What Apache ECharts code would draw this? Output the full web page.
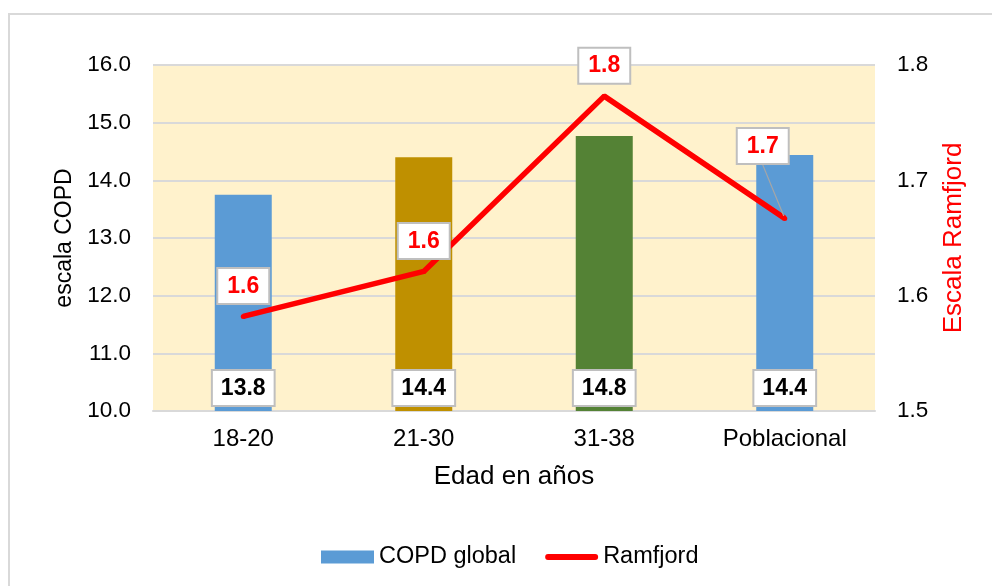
<!DOCTYPE html>
<html>
<head>
<meta charset="utf-8">
<script src="https://cdn.jsdelivr.net/npm/echarts@6/dist/echarts.min.js"></script>
<style>
    html, body { margin: 0; padding: 0; background: #fff; overflow: hidden; }
    .marco { position: absolute; left: 8px; top: 13px; width: 1000px; height: 600px; border: 2px solid #d9d9d9; }
    #chart { position: absolute; left: 0; top: 0; width: 992px; height: 586px; }
</style>
</head>
<body>
<div class="marco"></div>
<div id="chart"></div>
<script>
// datos
const categorias = ['18-20', '21-30', '31-38', 'Poblacional'];
const copdGlobal = [13.75, 14.4, 14.77, 14.44];
const ramfjord = [1.582, 1.621, 1.773, 1.667];
const coloresBarras = ['#5B9BD5', '#BF9000', '#548235', '#5B9BD5'];

const fuente = 'Liberation Sans, Arial, sans-serif';

let myChart = echarts.init(document.getElementById('chart'));

myChart.setOption({
    textStyle: { fontFamily: fuente },
    legend: {
        left: 321,
        top: 545,
        padding: 0,
        itemWidth: 53,
        itemHeight: 13,
        itemGap: 29,
        textStyle: { fontSize: 23.5, color: '#000', fontFamily: fuente },
        data: [
            { name: 'COPD global', icon: 'rect' },
            { name: 'Ramfjord', icon: 'path://M3,0 L52,0 A3,3 0 0 1 52,6 L3,6 A3,3 0 0 1 3,0 Z' }
        ]
    },
    grid: {
        left: 153,
        right: 117,
        top: 65,
        bottom: 175,
        show: true,
        backgroundColor: '#FFF2CC',
        borderWidth: 0
    },
    xAxis: {
        type: 'category',
        data: categorias,
        name: 'Edad en años',
        nameLocation: 'middle',
        nameGap: 53,
        nameTextStyle: { fontSize: 26, color: '#000', fontFamily: fuente },
        axisLine: { lineStyle: { color: '#D9D9D9', width: 2 } },
        axisTick: { show: false },
        axisLabel: { fontSize: 24, color: '#000', margin: 16, fontFamily: fuente }
    },
    yAxis: [
        {
            type: 'value',
            min: 10,
            max: 16,
            interval: 1,
            name: 'escala COPD',
            nameLocation: 'middle',
            nameGap: 76,
            nameTextStyle: { fontSize: 23, color: '#000', fontFamily: fuente },
            axisLine: { show: false },
            axisTick: { show: false },
            axisLabel: {
                fontSize: 22.5, color: '#000', margin: 22, fontFamily: fuente,
                formatter: v => v.toFixed(1)
            },
            splitLine: { lineStyle: { color: '#D9D9D9', width: 2 } }
        },
        {
            type: 'value',
            min: 1.5,
            max: 1.8,
            interval: 0.1,
            name: 'Escala Ramfjord',
            nameLocation: 'middle',
            nameGap: 66,
            nameTextStyle: { fontSize: 26, color: '#FF0000', fontFamily: fuente },
            axisLine: { show: false },
            axisTick: { show: false },
            axisLabel: {
                fontSize: 22.5, color: '#000', margin: 22, fontFamily: fuente,
                formatter: v => v.toFixed(1)
            },
            splitLine: { show: false }
        }
    ],
    series: [
        {
            name: 'COPD global',
            type: 'bar',
            yAxisIndex: 0,
            barWidth: 57,
            itemStyle: { color: '#5B9BD5' },
            data: copdGlobal.map((v, i) => ({ value: v, itemStyle: { color: coloresBarras[i] } })),
            label: {
                show: true,
                position: 'insideBottom',
                distance: 6,
                formatter: p => p.value.toFixed(1),
                fontSize: 23,
                fontWeight: 'bold',
                color: '#000',
                fontFamily: fuente,
                backgroundColor: '#fff',
                borderColor: '#BFBFBF',
                borderWidth: 2,
                padding: [6, 8, 5, 8]
            },
            z: 2
        },
        {
            name: 'Ramfjord',
            type: 'line',
            yAxisIndex: 1,
            data: ramfjord.map((v, i) => i === 3
                ? { value: v, labelLine: { show: true, lineStyle: { color: '#A6A6A6', width: 1.2 } } }
                : { value: v }),
            symbol: 'circle',
            symbolSize: 5,
            itemStyle: { color: '#FF0000' },
            lineStyle: { color: '#FF0000', width: 5.5 },
            label: {
                show: true,
                position: 'top',
                distance: 11,
                formatter: p => p.value.toFixed(1),
                fontSize: 23,
                fontWeight: 'bold',
                color: '#FF0000',
                fontFamily: fuente,
                backgroundColor: '#fff',
                borderColor: '#BFBFBF',
                borderWidth: 2,
                padding: [6, 9, 5, 9]
            },
            labelLine: { show: false },
            labelLayout: function (params) {
                if (params.dataIndex === 3) {
                    return { dx: -22, dy: -42 };
                }
                return {};
            },
            z: 5
        }
    ]
});
</script>
</body>
</html>
